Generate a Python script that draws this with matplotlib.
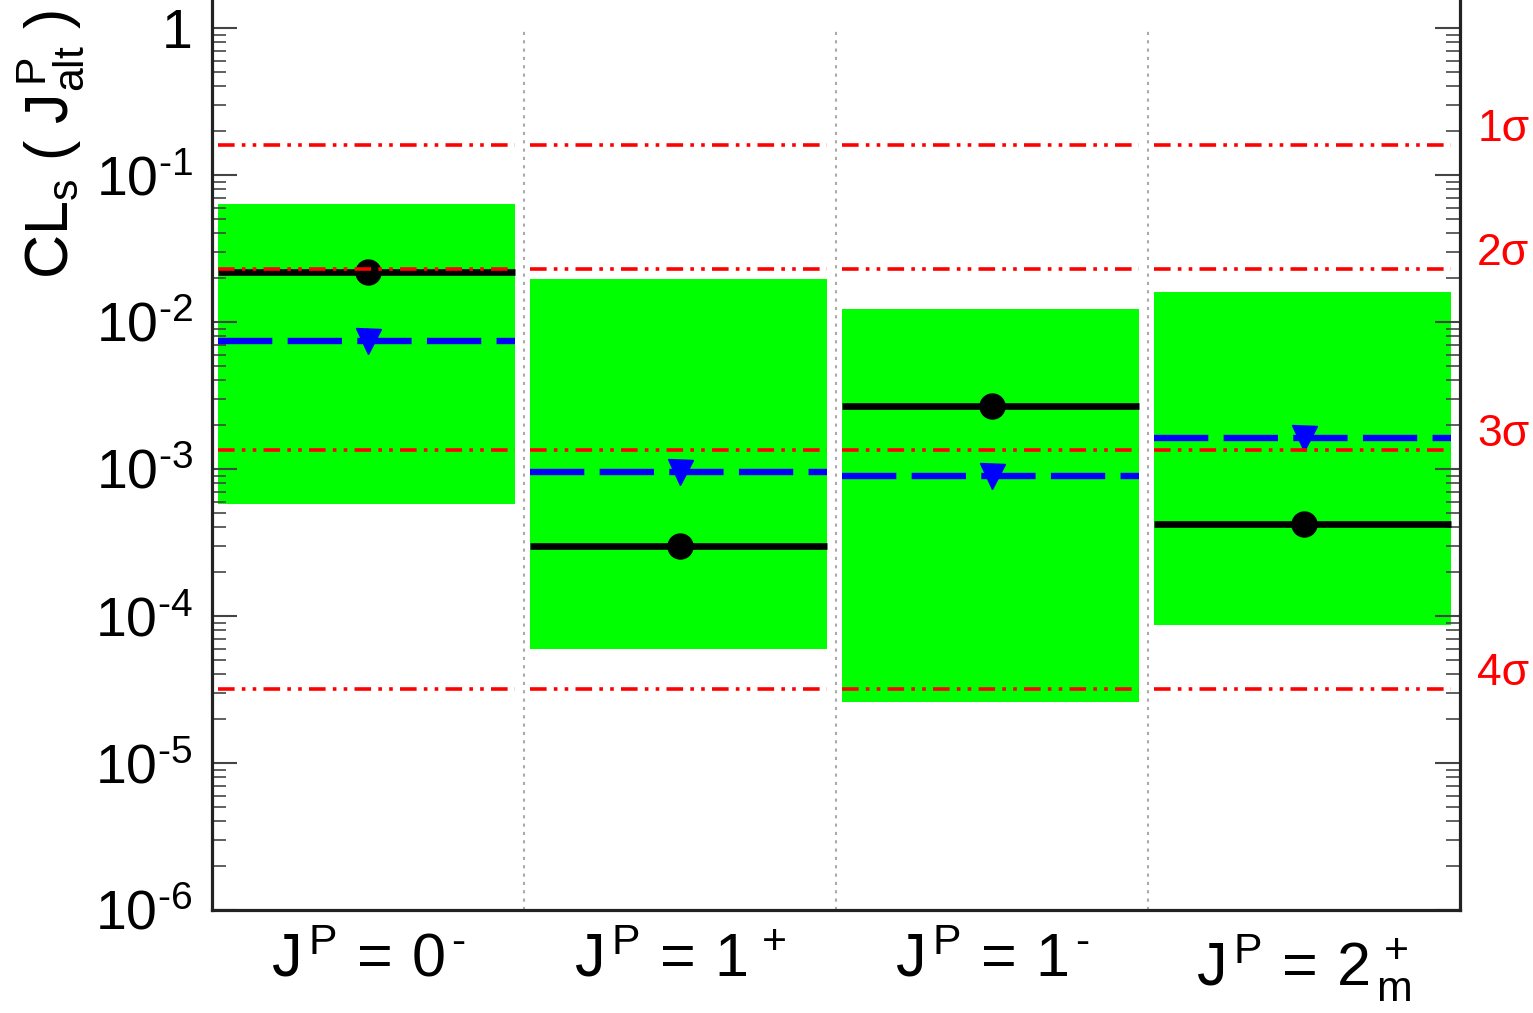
import numpy as np
import matplotlib
matplotlib.use("Agg")
import matplotlib.pyplot as plt

plt.rcParams['font.family'] = ['Liberation Sans', 'DejaVu Sans']
plt.rcParams['mathtext.fontset'] = 'custom'
plt.rcParams['mathtext.rm'] = 'Liberation Sans'
plt.rcParams['mathtext.it'] = 'Liberation Sans:italic'
plt.rcParams['mathtext.sf'] = 'Liberation Sans'

# hypotheses
labels = [r"$\mathrm{J}^{\,\mathrm{P}}\, = \,\mathrm{0}^{\,\text{-}}$",
          r"$\mathrm{J}^{\,\mathrm{P}}\, = \,\mathrm{1}^{\,+}$",
          r"$\mathrm{J}^{\,\mathrm{P}}\, = \,\mathrm{1}^{\,\text{-}}$",
          r"$\mathrm{J}^{\,\mathrm{P}}\, = \,\mathrm{2}^{\,+}_{\,\mathrm{m}}$"]
# observed CLs
observed = [2.2e-2, 3.0e-4, 2.7e-3, 4.2e-4]
# expected CLs
expected = [7.4e-3, 9.5e-4, 9.0e-4, 1.63e-3]
# green band
band_hi = [6.3e-2, 1.96e-2, 1.23e-2, 1.6e-2]
band_lo = [5.8e-4, 6.0e-5, 2.6e-5, 8.7e-5]
# sigma reference lines (one-sided p-values)
sigma_vals = [0.1587, 0.02275, 1.35e-3, 3.17e-5]
sigma_names = ["1σ", "2σ", "3σ", "4σ"]
ytick_vals = [1e-6, 1e-5, 1e-4, 1e-3, 1e-2, 1e-1, 1]
ytick_text = [r"$\mathrm{10}^{\text{-}6}$", r"$\mathrm{10}^{\text{-}5}$",
              r"$\mathrm{10}^{\text{-}4}$", r"$\mathrm{10}^{\text{-}3}$",
              r"$\mathrm{10}^{\text{-}2}$", r"$\mathrm{10}^{\text{-}1}$", "1"]

fig = plt.figure(figsize=(15.33, 10.13), dpi=100)
ax = fig.add_axes([0.1383, 0.1017, 0.8141, 0.9215])
ax.set_yscale("log")
ax.set_xlim(0, 4)
ax.set_ylim(1e-6, 10 ** 0.35)

x0, x1 = 0.02, 0.97
for i in range(len(labels)):
    ax.fill_between([i + x0, i + x1], band_lo[i], band_hi[i], color="#00ff00", lw=0, zorder=1)
    ax.plot([i + x0, i + x1], [observed[i]] * 2, color="black", lw=4.8,
            solid_capstyle="butt", zorder=3)
    ax.plot(i + 0.5, observed[i], "o", color="black", ms=18, zorder=4)
    ax.plot([i + x0, i + x1], [expected[i]] * 2, color="blue", lw=4.6,
            dashes=(8.5, 2.4), zorder=3)
    ax.plot(i + 0.5, expected[i], "v", color="blue", ms=18, zorder=4)
    for s in sigma_vals:
        ax.plot([i + x0, i + x1], [s, s], color="red", lw=2.6,
                dashes=(4.6, 2.0, 1.0, 2.0, 1.0, 2.0), zorder=5)

for b in [1, 2, 3]:
    ax.plot([b, b], [1e-6, 1], color="#aaaaaa", lw=1.5, ls=(0, (1.5, 2.5)), zorder=0)

for s, name in zip(sigma_vals, sigma_names):
    ax.text(4.055, s * 1.28, name, color="red", fontsize=32, va="center", ha="left",
            clip_on=False)

ax.set_xticks([0.5, 1.5, 2.5, 3.5])
ax.set_xticklabels(labels, fontsize=44)
ax.tick_params(axis="x", length=0, pad=16)

ax.set_yticks(ytick_vals)
ax.set_yticklabels(ytick_text, fontsize=40)
ax.tick_params(axis="y", which="major", direction="in", length=18, width=1.5,
               left=True, right=True, pad=14, color="#444444")
ax.tick_params(axis="y", which="minor", direction="in", length=10, width=1.2,
               left=True, right=True, color="#444444")

for sp in ax.spines.values():
    sp.set_linewidth(2.3)
    sp.set_color("#222222")

ax.set_ylabel(r"$\mathrm{CL_s}\ (\ \mathrm{J^{\,P}_{alt}}\ )$", fontsize=44)
ax.yaxis.set_label_coords(-0.1, 0.82)

fig.savefig("out.png", dpi=100)
